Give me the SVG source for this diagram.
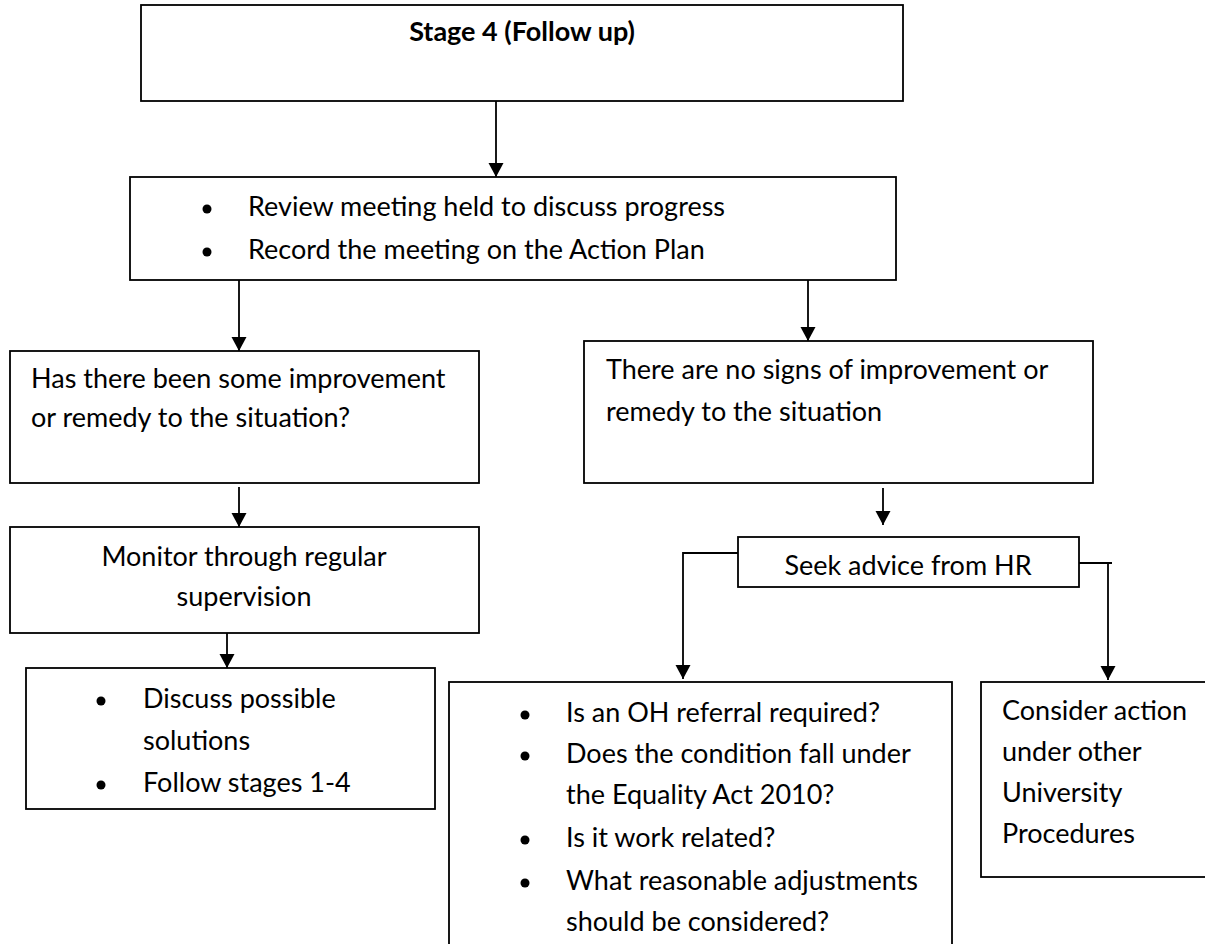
<svg xmlns="http://www.w3.org/2000/svg" width="1205" height="944" viewBox="0 0 1205 944">
<defs>
<marker id="ah" markerUnits="userSpaceOnUse" markerWidth="16" markerHeight="16" refX="14" refY="7.5" orient="auto">
<path d="M0,0 L14,7.5 L0,15 z" fill="#000"/>
</marker>
</defs>
<style>
.box{fill:#fff;stroke:#000;stroke-width:1.8}
.t{font-family:Lato,"Liberation Sans",sans-serif;font-size:27px;fill:#000}
.b{font-weight:bold}
.c{fill:none;stroke:#000;stroke-width:1.8}
.a{marker-end:url(#ah)}
.dot{fill:#000}
</style>
<rect width="1205" height="944" fill="#fff"/>
<g id="connectors">
<path class="c a" d="M496,101 V177"/>
<path class="c a" d="M239,280 V351"/>
<path class="c a" d="M808,280 V341"/>
<path class="c a" d="M239,487 V527"/>
<path class="c a" d="M883,488 V525"/>
<path class="c a" d="M227,633 V668"/>
<path class="c a" d="M738,553 H683 V679"/>
<path class="c" d="M1079,563 H1112"/>
<path class="c a" d="M1108,563 V680"/>
</g>
<g id="stage4">
<rect class="box" x="141" y="5" width="762" height="96"/>
<text class="t b" x="522" y="41" text-anchor="middle">Stage 4 (Follow up)</text>
</g>
<g id="review">
<rect class="box" x="130" y="177" width="766" height="103"/>
<circle class="dot" cx="207" cy="209" r="4.5"/>
<text class="t" x="248" y="216">Review meeting held to discuss progress</text>
<circle class="dot" cx="207" cy="252" r="4.5"/>
<text class="t" x="248" y="259">Record the meeting on the Action Plan</text>
</g>
<g id="improvement">
<rect class="box" x="10" y="351" width="469" height="132"/>
<text class="t" x="31" y="388">Has there been some improvement</text>
<text class="t" x="31" y="427">or remedy to the situation?</text>
</g>
<g id="noimprovement">
<rect class="box" x="584" y="341" width="509" height="142"/>
<text class="t" x="606" y="379">There are no signs of improvement or</text>
<text class="t" x="606" y="421">remedy to the situation</text>
</g>
<g id="monitor">
<rect class="box" x="10" y="527" width="469" height="106"/>
<text class="t" x="244" y="566" text-anchor="middle">Monitor through regular</text>
<text class="t" x="244" y="606" text-anchor="middle">supervision</text>
</g>
<g id="discuss">
<rect class="box" x="26" y="668" width="409" height="141"/>
<circle class="dot" cx="101" cy="701" r="4.5"/>
<text class="t" x="143" y="708">Discuss possible</text>
<text class="t" x="143" y="750">solutions</text>
<circle class="dot" cx="101" cy="785" r="4.5"/>
<text class="t" x="143" y="792">Follow stages 1-4</text>
</g>
<g id="seekhr">
<rect class="box" x="738" y="537" width="341" height="50"/>
<text class="t" x="908" y="575" text-anchor="middle">Seek advice from HR</text>
</g>
<g id="questions">
<rect class="box" x="449" y="682" width="503" height="280"/>
<circle class="dot" cx="525" cy="715" r="4.5"/>
<text class="t" x="566" y="722">Is an OH referral required?</text>
<circle class="dot" cx="525" cy="756" r="4.5"/>
<text class="t" x="566" y="763">Does the condition fall under</text>
<text class="t" x="566" y="804">the Equality Act 2010?</text>
<circle class="dot" cx="525" cy="840" r="4.5"/>
<text class="t" x="566" y="847">Is it work related?</text>
<circle class="dot" cx="525" cy="883" r="4.5"/>
<text class="t" x="566" y="890">What reasonable adjustments</text>
<text class="t" x="566" y="931">should be considered?</text>
</g>
<g id="otheraction">
<rect class="box" x="981" y="682" width="240" height="195"/>
<text class="t" x="1002" y="720">Consider action</text>
<text class="t" x="1002" y="761">under other</text>
<text class="t" x="1002" y="802">University</text>
<text class="t" x="1002" y="843">Procedures</text>
</g>
</svg>
